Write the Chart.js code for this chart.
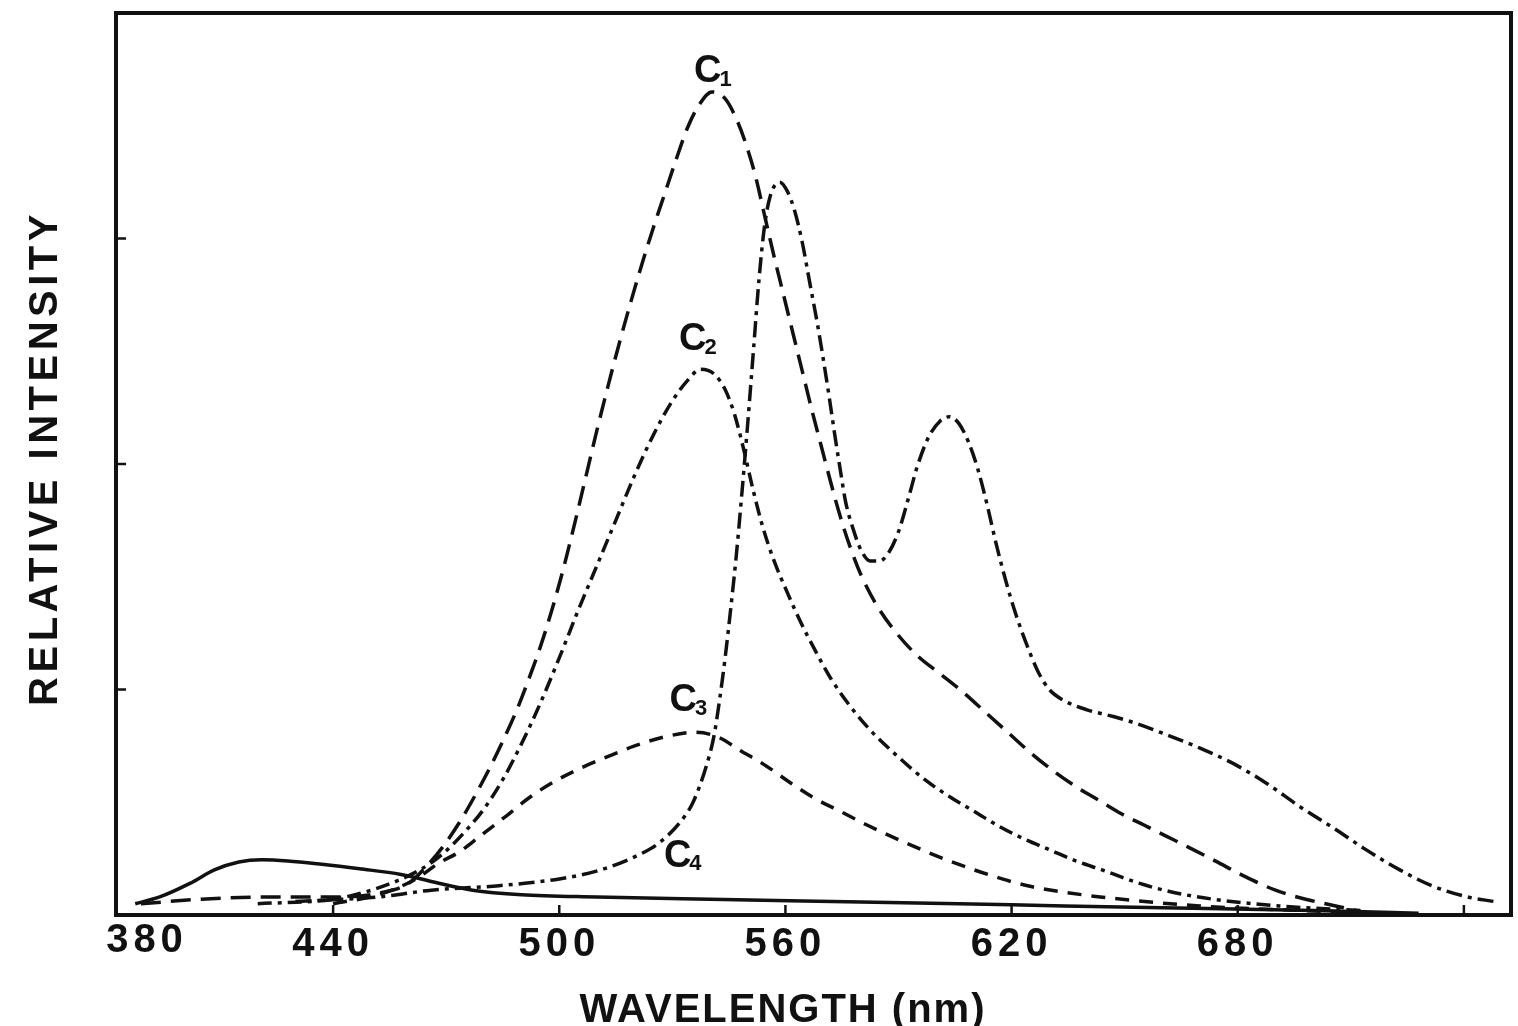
<!DOCTYPE html>
<html>
<head>
<meta charset="utf-8">
<title>Relative intensity vs wavelength</title>
<script src="https://cdn.jsdelivr.net/npm/chart.js@4.4.1/dist/chart.umd.min.js"></script>
<style>
  html, body { margin: 0; padding: 0; background: #fff; }
  #wrap { width: 1518px; height: 1026px; }
</style>
</head>
<body>
<div id="wrap"><canvas id="chart" width="1518" height="1026"></canvas></div>
<script>
// ── data (wavelength in nm, intensity in axis units 0–4) ──
const c1Wavelength = [389, 405, 424, 442, 453, 460, 465, 469, 473.5, 477, 481.5, 485, 489, 492, 495, 498, 501, 504, 507, 510,
  513, 516, 519, 522, 525, 528, 531, 534, 537, 540.5, 544, 547, 549.5, 552, 554.5, 557, 559.5, 562, 564.5, 567,
  569.5, 572, 574.5, 577, 580, 584, 589, 595, 601, 607, 613, 619, 625, 631, 637, 643, 649, 655, 661, 667,
  674, 682, 690, 698, 706, 714];
const c1Intensity = [0.05, 0.07, 0.08, 0.08, 0.10, 0.14, 0.22, 0.30, 0.41, 0.51, 0.65, 0.77, 0.92, 1.05, 1.19, 1.35, 1.53, 1.73, 1.94, 2.15,
  2.35, 2.54, 2.72, 2.89, 3.05, 3.20, 3.35, 3.49, 3.59, 3.65, 3.62, 3.53, 3.42, 3.28, 3.10, 2.92, 2.75, 2.58, 2.41, 2.24,
  2.08, 1.92, 1.77, 1.64, 1.51, 1.38, 1.26, 1.15, 1.07, 0.99, 0.90, 0.81, 0.72, 0.64, 0.57, 0.51, 0.45, 0.40, 0.35, 0.30,
  0.24, 0.17, 0.11, 0.07, 0.04, 0.01];

const c2Wavelength = [420, 440, 452, 463, 469, 475, 480, 485, 490, 495, 500, 505, 510, 515, 520, 525, 530, 534, 537.5, 541,
  544, 546.5, 549, 551.5, 554, 557, 560.5, 564, 568, 572, 577, 582.5, 590, 597, 604, 611, 617, 623, 630, 637,
  644, 654, 663, 673.5, 691, 713];
const c2Intensity = [0.05, 0.07, 0.12, 0.20, 0.27, 0.37, 0.47, 0.60, 0.76, 0.94, 1.14, 1.35, 1.55, 1.75, 1.95, 2.13, 2.28, 2.37, 2.42, 2.40,
  2.33, 2.22, 2.06, 1.88, 1.72, 1.57, 1.43, 1.30, 1.17, 1.05, 0.93, 0.82, 0.70, 0.60, 0.52, 0.45, 0.39, 0.34, 0.29, 0.24,
  0.20, 0.14, 0.10, 0.07, 0.04, 0.02];

const c3Wavelength = [440, 452, 462, 468, 473.5, 479, 486, 492, 498.5, 505.5, 512.5, 520, 528, 536, 542, 548, 555, 561, 567.5, 574.5,
  581.5, 590.5, 603.5, 617.5, 625.5, 634.5, 643.5, 670, 696.5, 715];
const c3Intensity = [0.05, 0.09, 0.16, 0.23, 0.28, 0.35, 0.44, 0.52, 0.59, 0.65, 0.70, 0.75, 0.79, 0.81, 0.79, 0.73, 0.66, 0.59, 0.52, 0.46,
  0.40, 0.33, 0.24, 0.16, 0.125, 0.10, 0.08, 0.04, 0.02, 0.01];

const c4Wavelength = [430, 452, 466, 484, 500, 511, 521.5, 526.5, 532, 535.5, 539, 541, 542.5, 544, 545.5, 547, 548.5, 550, 551.5, 553,
  554.5, 556, 558.5, 560.5, 562.5, 564.5, 566.5, 568.5, 570, 571.5, 573, 574.5, 576, 578, 580, 582.5, 585, 587.5, 590, 592.5,
  595, 598, 601, 603.5, 606, 608.5, 611, 613.5, 616, 618.5, 621, 624, 627, 630, 634, 640, 647, 653, 661, 670,
  679, 688, 696.5, 705, 714, 723, 731.5, 741, 748];
const c4Intensity = [0.06, 0.08, 0.11, 0.13, 0.16, 0.20, 0.27, 0.32, 0.41, 0.50, 0.66, 0.79, 0.95, 1.14, 1.36, 1.60, 1.88, 2.18, 2.50, 2.82,
  3.06, 3.19, 3.25, 3.21, 3.12, 2.98, 2.80, 2.62, 2.47, 2.31, 2.14, 1.98, 1.83, 1.71, 1.62, 1.57, 1.57, 1.61, 1.70, 1.84,
  1.99, 2.12, 2.19, 2.21, 2.18, 2.10, 1.98, 1.82, 1.64, 1.48, 1.34, 1.20, 1.08, 1.00, 0.95, 0.91, 0.88, 0.85, 0.80, 0.74,
  0.67, 0.58, 0.48, 0.39, 0.29, 0.20, 0.13, 0.08, 0.06];

// the unlabelled solid curve with the small bump near 420 nm
const c5Wavelength = [387.5, 394, 402, 408.5, 415, 421, 428, 437, 447, 458, 467, 477, 490, 510, 540, 580, 620, 660, 700, 728];
const c5Intensity = [0.05, 0.08, 0.14, 0.20, 0.235, 0.245, 0.24, 0.225, 0.205, 0.18, 0.145, 0.11, 0.09, 0.08, 0.07, 0.058, 0.045, 0.032, 0.02, 0.008];

// axis ticks
const xTickValues = [440, 500, 560, 620, 680, 740];
const xTickLabels = ['440', '500', '560', '620', '680', ''];
const yTickValues = [1, 2, 3];

// curve labels (C + subscript) and where they sit
const curveLetters = ['C', 'C', 'C', 'C'];
const curveIndices = ['1', '2', '3', '4'];
const labelWavelength = [541, 537, 534.5, 533];
const labelIntensity = [3.74, 2.55, 0.95, 0.26];

const INK = '#111';

function toPoints(xs, ys) {
    return xs.map((x, i) => ({ x, y: ys[i] }));
}

function curve(label, xs, ys, dash) {
    return {
        label,
        data: toPoints(xs, ys),
        borderColor: INK,
        borderWidth: 3.5,
        borderDash: dash,
        pointRadius: 0,
        fill: false,
        cubicInterpolationMode: 'monotone'
    };
}

// frame, inside tick marks, axis titles and curve labels
const figureFrame = {
    id: 'figureFrame',
    beforeDraw(chart) {
        const ctx = chart.ctx;
        ctx.save();
        ctx.fillStyle = '#fff';
        ctx.fillRect(0, 0, chart.width, chart.height);
        ctx.restore();
        ctx.letterSpacing = '5px';   // spaced-out tick numerals
    },
    afterDraw(chart) {
        const ctx = chart.ctx;
        const { left, right, top, bottom } = chart.chartArea;
        const xs = chart.scales.x, ys = chart.scales.y;
        ctx.save();
        ctx.letterSpacing = '0px';
        ctx.strokeStyle = INK;
        ctx.setLineDash([]);

        ctx.lineWidth = 4;
        ctx.strokeRect(left, top, right - left, bottom - top);

        ctx.lineWidth = 2.5;
        xTickValues.forEach(v => {
            const px = xs.getPixelForValue(v);
            ctx.beginPath(); ctx.moveTo(px, bottom); ctx.lineTo(px, bottom - 10); ctx.stroke();
        });
        yTickValues.forEach(v => {
            const py = ys.getPixelForValue(v);
            ctx.beginPath(); ctx.moveTo(left, py); ctx.lineTo(left + 10, py); ctx.stroke();
        });

        ctx.fillStyle = INK;

        // first wavelength label sits just inside the left edge
        ctx.font = 'bold 40px "Liberation Sans", Arial, sans-serif';
        ctx.letterSpacing = '5px';
        ctx.textAlign = 'center';
        ctx.textBaseline = 'top';
        ctx.fillText('380', left + 31, bottom + 6);

        // x title
        ctx.letterSpacing = '2px';
        ctx.textBaseline = 'alphabetic';
        ctx.fillText('WAVELENGTH (nm)', 783, 1022);

        // y title, rotated
        ctx.save();
        ctx.translate(46, 458);
        ctx.rotate(-Math.PI / 2);
        ctx.letterSpacing = '4.5px';
        ctx.textBaseline = 'middle';
        ctx.fillText('RELATIVE INTENSITY', 0, 0);
        ctx.restore();

        // curve labels
        ctx.letterSpacing = '0px';
        ctx.textAlign = 'left';
        ctx.textBaseline = 'middle';
        curveLetters.forEach((c, i) => {
            const px = xs.getPixelForValue(labelWavelength[i]);
            const py = ys.getPixelForValue(labelIntensity[i]);
            ctx.font = 'bold 38px "Liberation Sans", Arial, sans-serif';
            const w = ctx.measureText(c).width;
            const x0 = px - (w + 12) / 2;
            ctx.fillText(c, x0, py);
            ctx.font = 'bold 22px "Liberation Sans", Arial, sans-serif';
            ctx.fillText(curveIndices[i], x0 + w - 2, py + 8);
        });

        ctx.restore();
    }
};

new Chart(document.getElementById('chart'), {
    type: 'line',
    data: {
        datasets: [
            curve('C1', c1Wavelength, c1Intensity, [20, 10]),
            curve('C2', c2Wavelength, c2Intensity, [14, 6, 4, 6]),
            curve('C3', c3Wavelength, c3Intensity, [14, 10]),
            curve('C4', c4Wavelength, c4Intensity, [16, 6, 4, 6]),
            curve('C5', c5Wavelength, c5Intensity, [])
        ]
    },
    options: {
        responsive: false,
        animation: false,
        layout: { padding: { top: 13, right: 7, left: 0, bottom: 0 } },
        plugins: {
            legend: { display: false },
            tooltip: { enabled: false }
        },
        scales: {
            x: {
                type: 'linear',
                min: 382.4,
                max: 752.5,
                grid: { display: false, drawTicks: false },
                border: { display: false },
                afterBuildTicks: scale => { scale.ticks = xTickValues.map(value => ({ value })); },
                afterFit: scale => { scale.height = 111; },
                ticks: {
                    padding: 6,
                    color: INK,
                    font: { family: '"Liberation Sans", Arial, sans-serif', size: 40, weight: 'bold' },
                    callback: (value, index) => xTickLabels[index]
                }
            },
            y: {
                min: 0,
                max: 4,
                grid: { display: false, drawTicks: false },
                border: { display: false },
                ticks: { display: false },
                afterFit: scale => { scale.width = 116; }
            }
        }
    },
    plugins: [figureFrame]
});
</script>
</body>
</html>
